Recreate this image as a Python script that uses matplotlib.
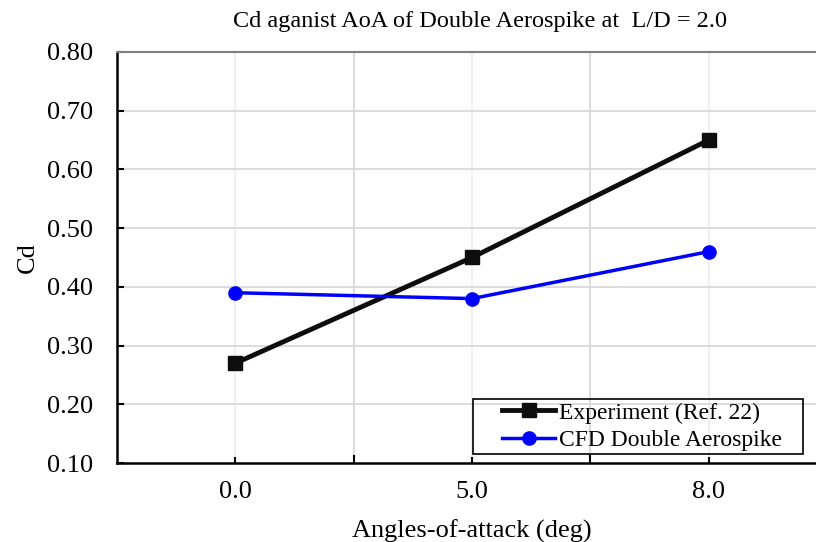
import matplotlib
matplotlib.use("Agg")
import matplotlib.pyplot as plt
from matplotlib.patches import Rectangle
import numpy as np

categories = ["0.0", "5.0", "8.0"]
experiment = [0.27, 0.45, 0.65]
cfd = [0.39, 0.38, 0.46]
yticks = [0.10, 0.20, 0.30, 0.40, 0.50, 0.60, 0.70, 0.80]

plt.rcParams['font.family'] = ['Liberation Serif', 'DejaVu Serif']

W, H = 816, 542
fig = plt.figure(figsize=(W / 100, H / 100), dpi=100)
left, right, top, bottom = 117, 827, 52, 463
ax = fig.add_axes([left / W, 1 - bottom / H, (right - left) / W, (bottom - top) / H])

x = np.arange(len(categories))
ax.set_xlim(-0.5, len(categories) - 0.5)
ax.set_ylim(0.10, 0.80)

# gridlines
for b in np.arange(-0.5, len(categories), 1.0)[1:]:
    ax.axvline(b, color='#d9d9d9', lw=1.3, zorder=0)
for c in x:
    ax.axvline(c, color='#eeeeee', lw=1.3, zorder=0)
for yv in yticks[1:-1]:
    ax.axhline(yv, color='#d9d9d9', lw=1.3, zorder=0)

ax.plot(x, experiment, color='#0d0d0d', lw=3.5, marker='s', ms=9.5,
        label='Experiment (Ref. 22)', zorder=3)
ax.plot(x, cfd, color='#0000ff', lw=2.5, marker='o', ms=9.5,
        label='CFD Double Aerospike', zorder=3)

ax.set_xticks(x)
ax.set_xticklabels(categories)
ax.set_xticks(np.arange(-0.5, len(categories), 1.0)[1:], minor=True)
ax.set_yticks(yticks)
ax.set_yticklabels([f"{v:.2f}" for v in yticks])
ax.tick_params(axis='both', which='both', direction='in', labelsize=19, width=1.5)
ax.tick_params(axis='x', which='major', length=4, pad=13)
ax.tick_params(axis='x', which='minor', length=6)
ax.tick_params(axis='y', length=5, pad=17)

for s in ['left', 'bottom']:
    ax.spines[s].set_color('black')
    ax.spines[s].set_linewidth(1.8)
ax.spines['top'].set_color('#808080')
ax.spines['top'].set_linewidth(1.5)
ax.spines['right'].set_visible(False)

ax.set_xlabel('Angles-of-attack (deg)', fontsize=19, labelpad=12)
ax.set_ylabel('Cd', fontsize=19, labelpad=6)
fig.text(480 / W, 1 - 22 / H, 'Cd aganist AoA of Double Aerospike at  L/D = 2.0',
         ha='center', va='center', fontsize=17.5)

# legend: frame drawn separately with wider horizontal padding
box_right, box_bottom = 782, 451
leg = ax.legend(loc='lower right',
                bbox_to_anchor=((box_right - left) / (right - left), (bottom - box_bottom) / (bottom - top)),
                fontsize=17, frameon=False,
                handlelength=2.25, handletextpad=0.15, borderpad=0.0, labelspacing=0.25,
                borderaxespad=0)
fig.canvas.draw()
bb = leg.get_window_extent().transformed(fig.transFigure.inverted())
padl, padr, padv = 29 / W, 21 / W, 3 / H
fig.patches.append(Rectangle((bb.x0 - padl, bb.y0 - padv), bb.width + padl + padr, bb.height + 2 * padv,
                             transform=fig.transFigure, fill=False, edgecolor='black', lw=1.2,
                             zorder=5, figure=fig))

fig.savefig('out.png', dpi=100)
